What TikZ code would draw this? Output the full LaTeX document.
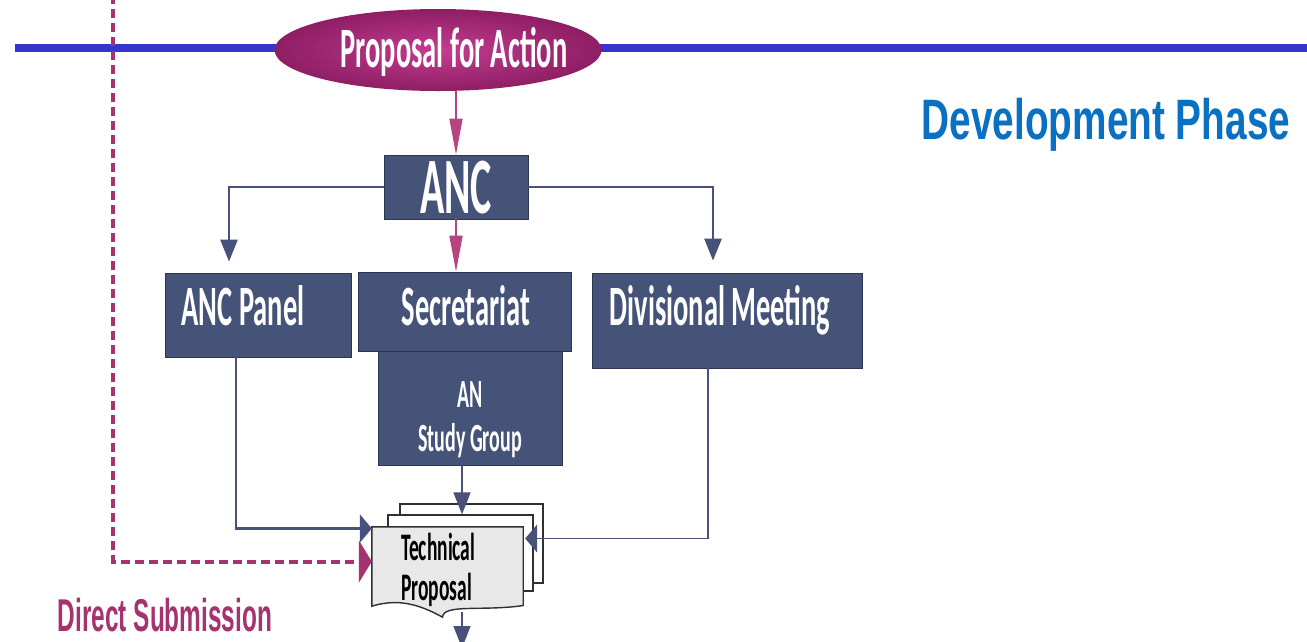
\documentclass[tikz,border=0pt]{standalone}
\usepackage{fontspec}
\usetikzlibrary{shapes.geometric,arrows.meta,calc}
\newfontfamily\cb[FakeStretch=0.5]{Carlito}
\newfontfamily\arB[FakeStretch=0.68]{Liberation Sans}
\newfontfamily\arD[FakeStretch=0.53]{Liberation Sans}
\definecolor{boxfill}{HTML}{465379}
\definecolor{boxedge}{HTML}{2E3550}
\definecolor{arrblue}{HTML}{47517B}
\definecolor{arrmag}{HTML}{B8447F}
\definecolor{ellin}{HTML}{C43C90}
\definecolor{ellout}{HTML}{8E1E64}
\definecolor{hblue}{HTML}{3535CC}
\definecolor{devblue}{HTML}{0A70C2}
\definecolor{dirmag}{HTML}{A5336F}
\definecolor{docfill}{HTML}{E8E8E8}
\definecolor{docedge}{HTML}{303030}
\begin{document}
\begin{tikzpicture}[x=1pt,y=-1pt,
  box/.style={draw=boxedge,line width=0.8pt,fill=boxfill,inner sep=0pt},
  boxtext/.style={text=white,font=\cb\bfseries\fontsize{57}{57}\selectfont,inner sep=0pt,anchor=base},
  varr/.style={draw=arrblue,line width=2.8pt,-{Triangle[length=22pt,width=17pt]}},
  harr/.style={draw=arrblue,line width=2.8pt,-{Triangle[length=12pt,width=28pt]}},
  thinarr/.style={draw=arrblue,line width=1.4pt,-{Triangle[length=12pt,width=28pt]}},
  magarr/.style={draw=arrmag,line width=1.6pt,-{Triangle[length=36pt,width=13pt]}},
  dasharr/.style={draw=dirmag,line width=4pt,dash pattern=on 9pt off 5pt,-{Triangle[length=13pt,width=42pt]}},
  page/.style={draw=docedge,line width=1.2pt,fill=white,inner sep=0pt}
]
\useasboundingbox (0,0) rectangle (1307,641);
\fill[white] (0,0) rectangle (1307,641);

% horizontal blue band
\draw[hblue,line width=8pt] (15,48) -- (1307,48);

% proposal ellipse
\node[ellipse,inner color=ellin,outer color=ellout,minimum width=327pt,minimum height=82pt,inner sep=0pt] (pfa) at (438,50) {};
\node[text=white,font=\cb\bfseries\fontsize{57}{57}\selectfont,inner sep=0pt] (pfat) at (454,52) {Proposal for Action};

% boxes
\node[box,minimum width=144pt,minimum height=64pt] (anc) at (456,187) {};
\node[text=white,font=\cb\bfseries\fontsize{80}{80}\selectfont,inner sep=0pt] (anct) at (456,188) {ANC};

\node[box,minimum width=186pt,minimum height=84pt] (panel) at (258,315) {};
\node[boxtext] (panelt) at (243,325) {ANC Panel};

\node[box,minimum width=184pt,minimum height=114pt] (sg) at (470,408) {};
\node[text=white,font=\cb\bfseries\fontsize{40}{44}\selectfont,inner sep=0pt,align=center] (sgt) at (470,420) {AN\\Study Group};

\node[box,minimum width=213pt,minimum height=79pt] (secr) at (464.5,311.5) {};
\node[boxtext] (secrt) at (466,325) {Secretariat};

\node[box,minimum width=270pt,minimum height=95pt] (div) at (727,320.5) {};
\node[boxtext] (divt) at (720,325) {Divisional Meeting};

% technical proposal document
\node[page,minimum width=143pt,minimum height=79pt] (pg3) at (471.5,543.5) {};
\node[page,minimum width=145pt,minimum height=76pt] (pg2) at (460.5,553) {};
\node[inner sep=0pt,minimum width=151pt,minimum height=85pt] (tp) at (447.5,569.5) {};
\draw[docedge,line width=1.4pt,fill=docfill] (tp.north west) -- (tp.north east) -- ($(tp.east)+(0,36)$)
  .. controls ($(tp.east)+(-40,42)$) and ($(tp.east)+(-80,34)$) .. ($(tp.south)+(-5,5)$)
  .. controls ($(tp.south)+(-35,-12)$) and ($(tp.south west)+(20,-12)$) .. ($(tp.south west)+(0,-6)$) -- cycle;
\node[font=\cb\bfseries\fontsize{39}{40}\selectfont,inner sep=0pt,align=left,anchor=north west] (tpt) at (401,533) {Technical\\Proposal};

% connectors
\draw[magarr] (anc.north |- pfa.south) -- (anc.north);
\draw[varr,shorten >=11pt] (anc.west) -| ([xshift=-29pt]panel.north);
\draw[varr,shorten >=12pt] (anc.east) -| ([xshift=-14pt]div.north);
\draw[magarr] (anc.south) -- (anc.south |- secr.north);
\draw[harr] ([xshift=-22pt]panel.south) |- ($(tp.west)+(0,-41)$);
\draw[thinarr] ([xshift=-19pt]div.south) |- ($(tp.east)+(2,-31)$);
\draw[varr,line width=1.6pt] ([xshift=-8pt]sg.south) -- ([xshift=-8pt]sg.south |- pg2.north);
\coordinate (outend) at (462,648);
\draw[varr,line width=1.6pt] ($(tp.south)+(14.5,0)$) -- (outend);
\coordinate (dstop) at (113,-5);
\draw[dasharr] (dstop) |- ($(tp.west)+(0,-8)$);

% labels
\node[text=dirmag,font=\arD\bfseries\fontsize{46}{46}\selectfont,inner sep=0pt] (dirs) at (165,615) {Direct Submission};
\node[text=devblue,font=\arB\bfseries\fontsize{57}{57}\selectfont,inner sep=0pt] (devp) at (1106,125) {Development Phase};
\end{tikzpicture}
\end{document}
